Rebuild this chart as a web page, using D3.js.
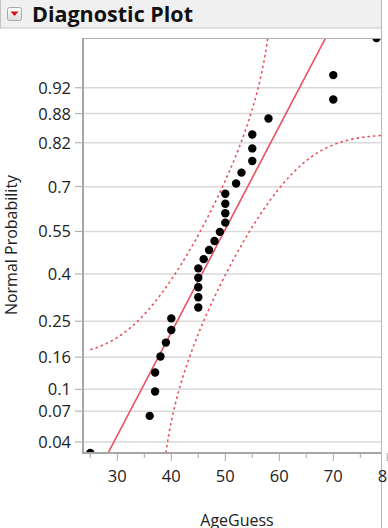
<!DOCTYPE html>
<html>
<head>
<meta charset="utf-8">
<script src="https://cdn.jsdelivr.net/npm/d3@7"></script>
<style>
  body { margin: 0; background: #fff; }
  text { font-family: "Open Sans", "Noto Sans", sans-serif; fill: #222; }
</style>
</head>
<body>
<script>
// AgeGuess values (sorted)
var ageGuess = [25, 36, 37, 37, 38, 39, 40, 40, 45, 45, 45, 45, 45, 46, 47, 48, 49,
                50, 50, 50, 50, 52, 53, 55, 55, 55, 58, 70, 70, 78];
var probTicks = [0.04, 0.07, 0.1, 0.16, 0.25, 0.4, 0.55, 0.7, 0.82, 0.88, 0.92];
var ageTicks = [30, 40, 50, 60, 70, 80];
var ageMinorTicks = [25, 35, 45, 55, 65, 75];
var lillieforsD = 0.161;   // 95% band, n = 30

var svgWidth = 388, svgHeight = 528;
var plotLeft = 83, plotTop = 38, plotRight = 381, plotBottom = 453;
var red = "#e8535f";

// normal cdf
function pnorm(z) {
    var t = 1 / (1 + 0.2316419 * Math.abs(z));
    var d = 0.3989423 * Math.exp(-z * z / 2);
    var p = d * t * (0.3193815 + t * (-0.3565638 + t * (1.781478 + t * (-1.821256 + t * 1.330274))));
    return z > 0 ? 1 - p : p;
}

// inverse normal cdf (Acklam)
function qnorm(p) {
    var a = [-39.69683028665376, 220.9460984245205, -275.9285104469687, 138.3577518672690, -30.66479806614716, 2.506628277459239];
    var b = [-54.47609879822406, 161.5858368580409, -155.6989798598866, 66.80131188771972, -13.28068155288572];
    var c = [-0.007784894002430293, -0.3223964580411365, -2.400758277161838, -2.549732539343734, 4.374664141464968, 2.938163982698783];
    var d = [0.007784695709041462, 0.3224671290700398, 2.445134137142996, 3.754408661907416];
    var q, r;
    if (p < 0.02425) {
        q = Math.sqrt(-2 * Math.log(p));
        return (((((c[0]*q+c[1])*q+c[2])*q+c[3])*q+c[4])*q+c[5]) / ((((d[0]*q+d[1])*q+d[2])*q+d[3])*q+1);
    }
    if (p > 1 - 0.02425) {
        q = Math.sqrt(-2 * Math.log(1 - p));
        return -(((((c[0]*q+c[1])*q+c[2])*q+c[3])*q+c[4])*q+c[5]) / ((((d[0]*q+d[1])*q+d[2])*q+d[3])*q+1);
    }
    q = p - 0.5; r = q * q;
    return (((((a[0]*r+a[1])*r+a[2])*r+a[3])*r+a[4])*r+a[5])*q / (((((b[0]*r+b[1])*r+b[2])*r+b[3])*r+b[4])*r+1);
}

var n = ageGuess.length;
var mean = d3.mean(ageGuess);
var sd = d3.deviation(ageGuess);

var points = ageGuess.map(function(v, i) {
    return { age: v, z: qnorm((i + 1) / (n + 1)) };
});

var x = d3.scaleLinear().domain([23.65, 80]).range([plotLeft, plotLeft + 56.35 * 5.4]);
var y = d3.scaleLinear().domain([qnorm(1 / (n + 1)), qnorm(n / (n + 1))]).range([plotBottom, plotTop]);

var svg = d3.select("body").append("svg")
    .attr("width", svgWidth)
    .attr("height", svgHeight);

// header bar
svg.append("rect")
    .attr("x", 0.5).attr("y", -1)
    .attr("width", plotRight).attr("height", 29)
    .attr("fill", "#f0f0f0")
    .attr("stroke", "#c4c4c4");

var grad = svg.append("defs").append("linearGradient")
    .attr("id", "btn").attr("x1", 0).attr("y1", 0).attr("x2", 0).attr("y2", 1);
grad.append("stop").attr("offset", "0%").attr("stop-color", "#ffffff");
grad.append("stop").attr("offset", "100%").attr("stop-color", "#dcdcdc");

svg.append("rect")
    .attr("x", 7.5).attr("y", 7.5)
    .attr("width", 14).attr("height", 13)
    .attr("rx", 2)
    .attr("fill", "url(#btn)")
    .attr("stroke", "#a8a8a8");

svg.append("path")
    .attr("d", "M10.5,11.5 L18.5,11.5 L14.5,16 Z")
    .attr("fill", "#d0121b");

svg.append("text")
    .attr("x", 32)
    .attr("y", 21.5)
    .attr("font-size", "21.5px")
    .attr("font-weight", "bold")
    .style("fill", "#111")
    .text("Diagnostic Plot");

// outer right edge of the report box
svg.append("line")
    .attr("x1", plotRight + 0.5).attr("x2", plotRight + 0.5)
    .attr("y1", 0).attr("y2", svgHeight)
    .attr("stroke", "#b8b8b8");

svg.append("clipPath").attr("id", "plotClip")
    .append("rect")
    .attr("x", plotLeft).attr("y", plotTop)
    .attr("width", plotRight - plotLeft).attr("height", plotBottom - plotTop);

// horizontal grid
svg.selectAll(".grid")
    .data(probTicks)
    .enter()
    .append("line")
    .attr("class", "grid")
    .attr("x1", plotLeft).attr("x2", plotRight)
    .attr("y1", function(d) { return y(qnorm(d)); })
    .attr("y2", function(d) { return y(qnorm(d)); })
    .attr("stroke", "#d9d9d9")
    .attr("stroke-width", 1.5);

var plot = svg.append("g").attr("clip-path", "url(#plotClip)");

// fitted normal line
var fitLine = d3.line()
    .x(function(d) { return x(mean + sd * d); })
    .y(function(d) { return y(d); });

plot.append("path")
    .datum([-3, 3])
    .attr("d", fitLine)
    .attr("fill", "none")
    .attr("stroke", red)
    .attr("stroke-width", 1.6);

// Lilliefors confidence bands
var bandX = d3.range(ageGuess[0], 80.01, 0.25);
function band(sign) {
    var pts = [];
    bandX.forEach(function(v) {
        var p = pnorm((v - mean) / sd) + sign * lillieforsD;
        if (p > 0.0005 && p < 0.9995) pts.push([v, qnorm(p)]);
    });
    return pts;
}
var bandLine = d3.line()
    .x(function(d) { return x(d[0]); })
    .y(function(d) { return y(d[1]); });

[1, -1].forEach(function(s) {
    plot.append("path")
        .datum(band(s))
        .attr("d", bandLine)
        .attr("fill", "none")
        .attr("stroke", red)
        .attr("stroke-width", 1.6)
        .attr("stroke-dasharray", "2.5,3");
});

// points
plot.selectAll(".pt")
    .data(points)
    .enter()
    .append("circle")
    .attr("class", "pt")
    .attr("cx", function(d) { return x(d.age); })
    .attr("cy", function(d) { return y(d.z); })
    .attr("r", 4.2)
    .attr("fill", "#000");

// frame
svg.append("line")
    .attr("x1", plotLeft).attr("x2", plotRight)
    .attr("y1", plotTop + 0.5).attr("y2", plotTop + 0.5)
    .attr("stroke", "#b0b0b0");
svg.append("line")
    .attr("x1", plotLeft).attr("x2", plotLeft)
    .attr("y1", plotTop).attr("y2", plotBottom)
    .attr("stroke", "#a6a6a6").attr("stroke-width", 2);
svg.append("line")
    .attr("x1", plotLeft - 1).attr("x2", plotRight)
    .attr("y1", plotBottom).attr("y2", plotBottom)
    .attr("stroke", "#a6a6a6").attr("stroke-width", 2);

// y axis ticks and labels
svg.selectAll(".ytick")
    .data(probTicks)
    .enter()
    .append("line")
    .attr("class", "ytick")
    .attr("x1", plotLeft - 8).attr("x2", plotLeft)
    .attr("y1", function(d) { return y(qnorm(d)); })
    .attr("y2", function(d) { return y(qnorm(d)); })
    .attr("stroke", "#a6a6a6");

svg.selectAll(".ylab")
    .data(probTicks)
    .enter()
    .append("text")
    .attr("class", "ylab")
    .attr("x", plotLeft - 12)
    .attr("y", function(d) { return y(qnorm(d)); })
    .attr("dy", "0.36em")
    .attr("text-anchor", "end")
    .attr("font-size", "16.5px")
    .text(function(d) { return d; });

// x axis ticks and labels
svg.selectAll(".xtick")
    .data(ageTicks)
    .enter()
    .append("line")
    .attr("class", "xtick")
    .attr("x1", function(d) { return x(d); })
    .attr("x2", function(d) { return x(d); })
    .attr("y1", plotBottom).attr("y2", plotBottom + 8)
    .attr("stroke", "#a6a6a6");

svg.selectAll(".xminor")
    .data(ageMinorTicks)
    .enter()
    .append("line")
    .attr("class", "xminor")
    .attr("x1", function(d) { return x(d); })
    .attr("x2", function(d) { return x(d); })
    .attr("y1", plotBottom).attr("y2", plotBottom + 5)
    .attr("stroke", "#a6a6a6");

svg.selectAll(".xlab")
    .data(ageTicks)
    .enter()
    .append("text")
    .attr("class", "xlab")
    .attr("x", function(d) { return x(d); })
    .attr("y", 482)
    .attr("text-anchor", "middle")
    .attr("font-size", "16.5px")
    .text(function(d) { return d; });

svg.append("text")
    .attr("x", 237)
    .attr("y", 526)
    .attr("text-anchor", "middle")
    .attr("font-size", "16px")
    .text("AgeGuess");

svg.append("text")
    .attr("transform", "translate(17,245) rotate(-90)")
    .attr("text-anchor", "middle")
    .attr("font-size", "16px")
    .text("Normal Probability");
</script>
</body>
</html>
